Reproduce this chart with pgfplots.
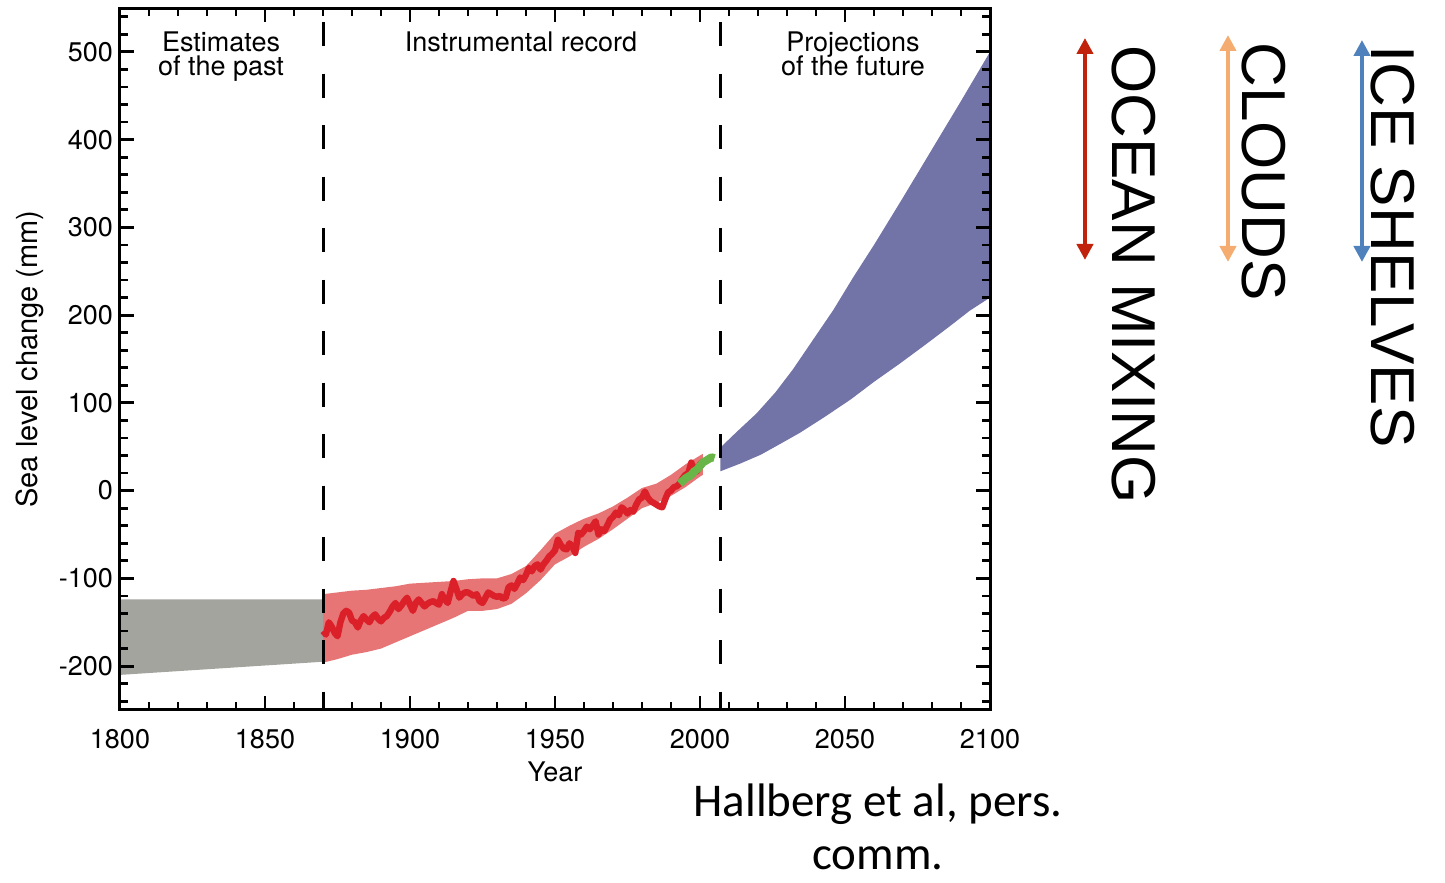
\documentclass[border=0pt]{standalone}
\usepackage{fontspec}
\setmainfont{TeX Gyre Heros}
\newfontfamily\arialfont{Liberation Sans}
\newfontfamily\calibrifont{Carlito}
\usepackage{pgfplots}
\pgfplotsset{compat=1.18}
\usetikzlibrary{arrows.meta}

\definecolor{greyband}{RGB}{163,164,158}
\definecolor{redband}{RGB}{231,117,117}
\definecolor{redline}{RGB}{219,32,42}
\definecolor{satgreen}{RGB}{104,181,72}
\definecolor{projblue}{RGB}{114,115,166}
\definecolor{arrred}{RGB}{192,34,12}
\definecolor{arrorange}{RGB}{245,172,112}
\definecolor{arrblue}{RGB}{79,129,189}

\newcommand{\axisfont}{\fontsize{13.5bp}{16bp}\selectfont}

\begin{document}
\begin{tikzpicture}
\useasboundingbox (0,0) rectangle (722.5bp,441.5bp);
\begin{axis}[
  at={(60bp,86.5bp)}, anchor=south west,
  scale only axis, width=435bp, height=351bp,
  xmin=1800, xmax=2100, ymin=-250, ymax=550,
  xtick={1800,1850,...,2100},
  ytick={-200,-100,...,500},
  minor xtick={1810,1820,...,2090},
  minor ytick={-240,-220,...,540},
  tick align=inside,
  major tick length=7bp, minor tick length=4bp,
  tick style={black, line width=1.4bp},
  axis line style={black, line width=1.5bp},
  axis on top,
  /pgf/number format/1000 sep={},
  /pgf/number format/assume math mode=true,
  ticklabel style={font=\axisfont},
  xticklabel style={yshift=-6bp},
  xlabel={Year},
  ylabel={Sea level change (mm)},
  label style={font=\axisfont},
  xlabel style={at={(axis description cs:0.5,-0.0883)}, anchor=center},
  ylabel style={at={(axis description cs:-0.1034,0.5)}, anchor=center, font=\fontsize{14.5bp}{17bp}\selectfont},
]
% estimates of the past
\addplot[fill=greyband, draw=none] coordinates {
 (1800,-124) (1870,-124) (1870,-195) (1800,-210)} -- cycle;
% tide-gauge range
\addplot[fill=redband, draw=none] coordinates {
 (1870,-118) (1875,-116) (1880,-114) (1885,-113) (1890,-111) (1895,-109)
 (1900,-106) (1905,-105) (1910,-104) (1915,-103) (1920,-101) (1925,-100)
 (1930,-100) (1935,-95) (1940,-86) (1945,-68) (1950,-49) (1955,-40)
 (1960,-32) (1965,-26) (1970,-18) (1975,-8) (1980,3) (1985,8) (1990,18)
 (1995,30) (2000,40) (2001,42)
 (2001,18) (2000,16) (1995,4) (1990,-6) (1985,-14) (1980,-20) (1975,-32)
 (1970,-44) (1965,-55) (1960,-64) (1955,-75) (1950,-84) (1945,-102)
 (1940,-117) (1935,-129) (1930,-135) (1925,-137) (1920,-137) (1915,-145)
 (1910,-152) (1905,-159) (1900,-166) (1895,-173) (1890,-180) (1885,-184)
 (1880,-187) (1875,-192) (1870,-196)} -- cycle;
% tide-gauge reconstruction
\addplot[redline, line width=3.2bp, line join=round] coordinates {
 (1870,-160) (1871,-164) (1872,-150) (1873,-155) (1874,-162) (1875,-166)
 (1876,-150) (1877,-140) (1878,-137) (1879,-139) (1880,-148) (1881,-150)
 (1882,-156) (1883,-148) (1884,-143) (1885,-147) (1886,-150) (1887,-144)
 (1888,-141) (1889,-146) (1890,-149) (1891,-145) (1892,-143) (1893,-138)
 (1894,-132) (1895,-128) (1896,-135) (1897,-131) (1898,-126) (1899,-122)
 (1900,-130) (1901,-137) (1902,-128) (1903,-124) (1904,-128) (1905,-132)
 (1906,-129) (1907,-127) (1908,-126) (1909,-128) (1910,-130) (1911,-118)
 (1912,-124) (1913,-128) (1914,-115) (1915,-103) (1916,-112) (1917,-122)
 (1918,-118) (1919,-116) (1920,-116) (1921,-118) (1922,-120) (1923,-118)
 (1924,-126) (1925,-128) (1926,-122) (1927,-116) (1928,-118) (1929,-120)
 (1930,-121) (1931,-120) (1932,-123) (1933,-122) (1934,-110) (1935,-108)
 (1936,-112) (1937,-106) (1938,-99) (1939,-102) (1940,-96) (1941,-88)
 (1942,-92) (1943,-86) (1944,-84) (1945,-90) (1946,-84) (1947,-80)
 (1948,-75) (1949,-72) (1950,-68) (1951,-56) (1952,-62) (1953,-66)
 (1954,-67) (1955,-60) (1956,-64) (1957,-71) (1958,-48) (1959,-50)
 (1960,-46) (1961,-41) (1962,-44) (1963,-40) (1964,-35) (1965,-50)
 (1966,-44) (1967,-46) (1968,-40) (1969,-33) (1970,-30) (1971,-25)
 (1972,-28) (1973,-19) (1974,-22) (1975,-26) (1976,-22) (1977,-24)
 (1978,-16) (1979,-10) (1980,-8) (1981,-1) (1982,-8) (1983,-12)
 (1984,-14) (1985,-16) (1986,-18) (1987,-19) (1988,-10) (1989,-2)
 (1990,0) (1991,4) (1992,5) (1993,8) (1994,14) (1995,18) (1996,20)
 (1997,32) (1998,24) (1999,22) (2000,30) (2001,33)};
% satellite altimetry
\addplot[satgreen, line width=4bp, line join=round] coordinates {
 (1993,8) (1994,11) (1995,14) (1996,16) (1997,18) (1998,22) (1999,24)
 (2000,28) (2001,32) (2002,34) (2003,36) (2004,38) (2005,37)};
% projections
\addplot[fill=projblue, draw=none] coordinates {
 (2007,49) (2013,68) (2019.5,88) (2026,112) (2032,138) (2039,172) (2046,206)
 (2053,244) (2060,280) (2070,334) (2080,389) (2090,444) (2100,500)
 (2100,220) (2093,205) (2086,187) (2078,167) (2069,145) (2060,124)
 (2052,104) (2043,84) (2034.5,66) (2027,52) (2021,41) (2014,31) (2007,22)} -- cycle;
% dividers
\addplot[black, line width=1.5bp, dash pattern=on 12bp off 13.75bp, dash phase=18.75bp]
 coordinates {(1870,550) (1870,-250)};
\addplot[black, line width=1.5bp, dash pattern=on 12bp off 13.75bp, dash phase=18.75bp]
 coordinates {(2007,550) (2007,-250)};
\end{axis}

\begin{scope}[shift={(0,441.5bp)}, x=0.5bp, y=-0.5bp]
 \node[anchor=base, inner sep=0, font=\axisfont] at (221,52) {Estimates};
 \node[anchor=base, inner sep=0, font=\axisfont] at (221,76) {of the past};
 \node[anchor=base, inner sep=0, font=\axisfont] at (521,52) {Instrumental record};
 \node[anchor=base, inner sep=0, font=\axisfont] at (853,52) {Projections};
 \node[anchor=base, inner sep=0, font=\axisfont] at (853,76) {of the future};

 \draw[arrred, line width=2bp, {Triangle[length=8bp,width=8bp]}-{Triangle[length=8bp,width=8bp]}] (1085,38) -- (1085,260);
 \draw[arrorange, line width=2bp, {Triangle[length=8bp,width=8bp]}-{Triangle[length=8bp,width=8bp]}] (1228,35) -- (1228,262);
 \draw[arrblue, line width=2bp, {Triangle[length=8bp,width=8bp]}-{Triangle[length=8bp,width=8bp]}] (1362,40) -- (1362,262);

 \node[rotate=-90, anchor=base west, inner sep=0, font=\arialfont\fontsize{31bp}{36bp}\selectfont] at (1113,45) {OCEAN MIXING};
 \node[rotate=-90, anchor=base west, inner sep=0, font=\arialfont\fontsize{31bp}{36bp}\selectfont] at (1243,42) {CLOUDS};
 \node[rotate=-90, anchor=base west, inner sep=0, font=\arialfont\fontsize{31bp}{36bp}\selectfont] at (1372,45) {ICE SHELVES};

 \node[anchor=base, inner sep=0, font=\calibrifont\fontsize{23.5bp}{28bp}\selectfont] at (878,817) {Hallberg et al, pers.};
 \node[anchor=base, inner sep=0, font=\calibrifont\fontsize{23.5bp}{28bp}\selectfont] at (878,870) {comm.};
\end{scope}
\end{tikzpicture}
\end{document}
